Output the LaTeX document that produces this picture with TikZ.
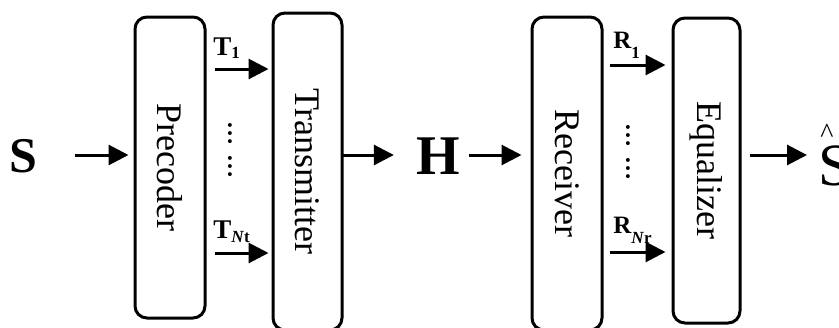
\documentclass[tikz,border=0pt]{standalone}
\usepackage{fontspec}
\setmainfont{Liberation Serif}
\usetikzlibrary{arrows.meta,positioning}

\newcommand\lowidx[2]{\raisebox{-#1}{\fontsize{8.5}{8.5}\selectfont #2}}

\begin{document}
\begin{tikzpicture}[x=0.5pt,y=-0.5pt,
  block/.style={draw,line width=1.5pt,rounded corners=6pt,inner sep=0pt,
    font=\fontsize{18}{18}\selectfont},
  sig/.style={line width=1.5pt,-{Triangle[length=10pt,width=10pt]}},
  lbl/.style={inner sep=0pt,anchor=base west,font=\bfseries\fontsize{13.5}{13.5}\selectfont},
  dots/.style={inner sep=0pt,font=\bfseries\fontsize{12}{12}\selectfont}]
\useasboundingbox (0,0) rectangle (839,327);
% blocks
\node[block,minimum width=35pt,minimum height=150.5pt] (prec) at (170,167.5) {\rotatebox{-90}{Precoder}};
\node[block,minimum width=34.5pt,minimum height=158.5pt] (trans) at (307.5,171.5) {\rotatebox{-90}{Transmitter}};
\node[block,minimum width=35pt,minimum height=156.5pt] (recv) at (567,173.5) {\rotatebox{-90}{Receiver}};
\node[block,minimum width=33.5pt,minimum height=152.5pt] (eq) at (706.5,170.5) {\rotatebox{-90}{Equalizer}};
% signals
\node[inner sep=0pt,font=\bfseries\fontsize{25}{25}\selectfont] (s) at (23.5,156.5) {S};
\node[inner sep=0pt,font=\bfseries\fontsize{28}{28}\selectfont] (h) at (438,156.5) {H};
\node[inner sep=0pt,anchor=base west,font=\fontsize{30}{30}\selectfont] (shat) at (818,185)
  {\makebox[0pt][l]{\hspace{1pt}\raisebox{21.5pt}{\fontsize{14}{14}\selectfont\textasciicircum}}S};
\coordinate (mid) at (0,155);
\coordinate (t1) at (0,69);
\coordinate (tn) at (0,253);
\coordinate (r1) at (0,65);
\coordinate (rn) at (0,252);
% arrows
\draw[sig,shorten <=18.5pt,shorten >=2.5pt] (s.east |- mid) -- (prec.west |- mid);
\draw[sig,shorten <=-1pt,shorten >=11pt] (trans.east |- mid) -- (h.west |- mid);
\draw[sig,shorten <=4.5pt,shorten >=4.5pt] (h.east |- mid) -- (recv.west |- mid);
\draw[sig,shorten <=4pt,shorten >=5.5pt] (eq.east |- mid) -- (shat.west |- mid);
\draw[sig,shorten <=4pt,shorten >=1.5pt] (prec.east |- t1) -- (trans.west |- t1);
\draw[sig,shorten <=4pt,shorten >=1.5pt] (prec.east |- tn) -- (trans.west |- tn);
\draw[sig,shorten <=3pt,shorten >=3pt] (recv.east |- r1) -- (eq.west |- r1);
\draw[sig,shorten <=3pt,shorten >=3pt] (recv.east |- rn) -- (eq.west |- rn);
% labels
\node[lbl] (lt1) at (213,55) {T\lowidx{1.5pt}{1}};
\node[lbl] (ltn) at (213,238) {T\lowidx{2pt}{\textit{N}t}};
\node[lbl,font=\bfseries\fontsize{12.5}{12.5}\selectfont] (lr1) at (613,48) {R\lowidx{5pt}{1}};
\node[lbl,font=\bfseries\fontsize{12.5}{12.5}\selectfont] (lrn) at (613,233) {R\lowidx{5pt}{\textit{N}r}};
\node[dots] (dt) at (230,150) {\rotatebox{-90}{\ldots\hspace{5pt}\ldots}};
\node[dots] (dr) at (628,152) {\rotatebox{-90}{\ldots\hspace{5pt}\ldots}};
\end{tikzpicture}
\end{document}
